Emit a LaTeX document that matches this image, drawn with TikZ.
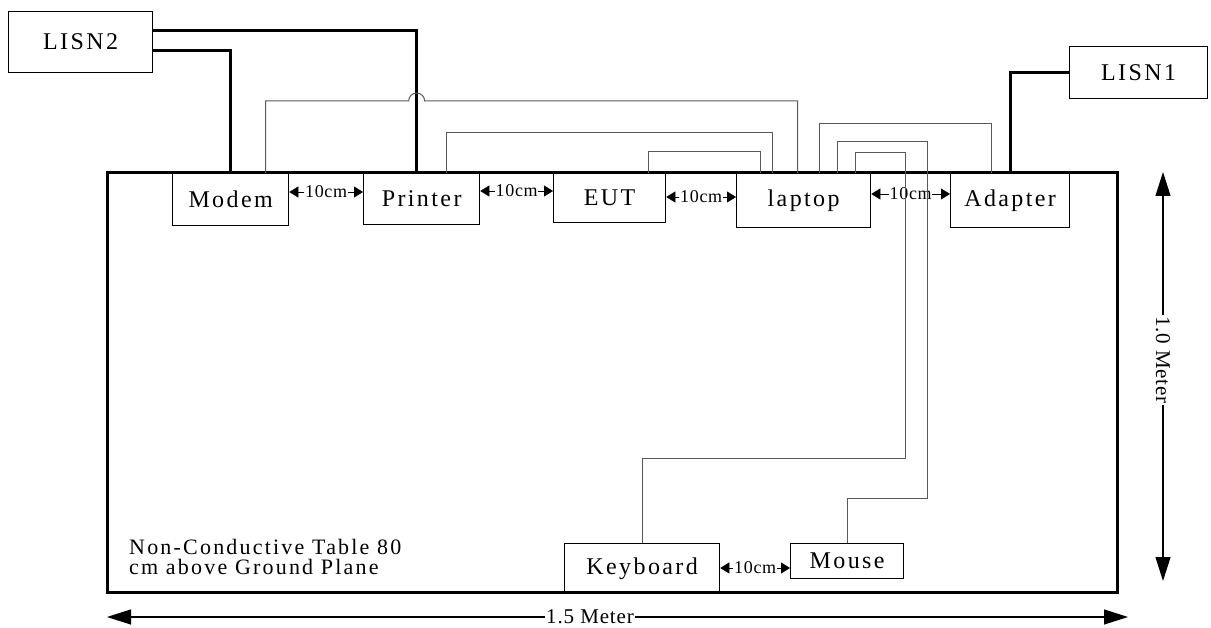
\documentclass[tikz,border=0pt]{standalone}
\usepackage{fontspec}
\setmainfont{Liberation Serif}
\newfontfamily\spaced[LetterSpace=10]{Liberation Serif}
\newfontfamily\narrowspaced[LetterSpace=4]{Liberation Serif}
\usetikzlibrary{arrows.meta,positioning,calc}

\tikzset{
  unit/.style={draw, line width=1.3pt, anchor=north west, inner sep=0pt,
    font=\spaced\fontsize{24}{26}\selectfont},
  tableedge/.style={line width=3pt},
  mains/.style={line width=3pt},
  cable/.style={line width=1pt, draw=black!65},
  gap/.style={font=\narrowspaced\fontsize{18}{20}\selectfont, inner sep=0.5pt},
  gaptip/.style={-{Triangle[length=9pt,width=11pt]}},
  dim/.style={font=\narrowspaced\fontsize{21}{23}\selectfont, inner sep=1pt},
  dimline/.style={line width=1.2pt, -{Triangle[length=24pt,width=15pt]}},
}

\begin{document}
\begin{tikzpicture}[x=1pt,y=-1pt]
    \useasboundingbox (0,0) rectangle (1211,628);

    % Table
    \draw[tableedge] (107,173) rectangle (1117,592);
    \node[anchor=north west, align=left, inner sep=0pt,
      font=\spaced\fontsize{22}{20.5}\selectfont] (note) at (129,539)
      {Non-Conductive Table 80\\cm above Ground Plane};

    % Units
    \node[unit, minimum width=144, minimum height=61] (lisn2) at (8,11) {LISN2};
    \node[unit, minimum width=138, minimum height=52] (lisn1) at (1069,46) {LISN1};
    \node[unit, minimum width=116, minimum height=52] (modem) at (172,173) {Modem};
    \node[unit, minimum width=116, minimum height=51] (printer) at (363,173) {Printer};
    \node[unit, minimum width=112, minimum height=49] (eut) at (553,173) {EUT};
    \node[unit, minimum width=134, minimum height=54] (laptop) at (736,173) {laptop};
    \node[unit, minimum width=119, minimum height=54] (adapter) at (950,173) {Adapter};
    \node[unit, minimum width=155, minimum height=50] (keyboard) at (564,543) {Keyboard};
    \node[unit, minimum width=113, minimum height=35] (mouse) at (790,543) {Mouse};

    % Spacing between units
    \foreach \a/\b/\y [count=\i] in {modem/printer/192, printer/eut/191,
        eut/laptop/197, laptop/adapter/194, keyboard/mouse/568} {
      \coordinate (mid\i) at ($(\a.east)!0.5!(\b.west)$);
      \coordinate (lvl\i) at (0,\y);
      \node[gap] (g\i) at (mid\i |- lvl\i) {10cm};
      \draw[gaptip] (g\i.west) -- (g\i.west -| \a.east);
      \draw[gaptip] (g\i.east) -- (g\i.east -| \b.west);
    }

    % Mains cables
    \draw[mains] ([yshift=-20pt]lisn2.north east) -| ([xshift=-5pt]printer.north);
    \draw[mains] ([yshift=-40pt]lisn2.north east) -| (modem.north);
    \draw[mains] (adapter.north) |- (lisn1.west);

    % Signal cables
    \draw[cable] ([xshift=35pt]modem.north) -- ++(0,-72)
      -- ([xshift=-13pt,yshift=72pt]printer.north)
      arc[start angle=180, end angle=0, radius=8pt]
      -| ([xshift=-6pt]laptop.north);
    \draw[cable] ([xshift=25pt]printer.north)
      |- ([xshift=-31pt,yshift=40pt]laptop.north) -- ([xshift=-31pt]laptop.north);
    \draw[cable] ([xshift=39pt]eut.north)
      |- ([xshift=-43pt,yshift=21pt]laptop.north) -- ([xshift=-43pt]laptop.north);
    \draw[cable] ([xshift=16pt]laptop.north)
      |- ([xshift=-19pt,yshift=49pt]adapter.north) -- ([xshift=-19pt]adapter.north);
    \draw[cable] ([xshift=34pt]laptop.north) -- ++(0,-31)
      -| ([xshift=80pt,yshift=45pt]mouse.north) -- ([yshift=45pt]mouse.north)
      -- (mouse.north);
    \draw[cable] ([xshift=52pt]laptop.north) -- ++(0,-20)
      -| ([xshift=263.5pt,yshift=85pt]keyboard.north) -- ([yshift=85pt]keyboard.north)
      -- (keyboard.north);

    % Dimensions
    \coordinate (wtip) at (107,617);
    \coordinate (etip) at (1128,617);
    \node[dim] (hlab) at (590,617) {1.5 Meter};
    \draw[dimline] (hlab.west) -- (wtip);
    \draw[dimline] (hlab.east) -- (etip);
    \coordinate (ntip) at (1163,172);
    \coordinate (stip) at (1163,581);
    \node[dim, rotate=-90] (vlab) at (1163,360) {1.0 Meter};
    \draw[dimline] (vlab.west) -- (ntip);
    \draw[dimline] (vlab.east) -- (stip);
\end{tikzpicture}
\end{document}
